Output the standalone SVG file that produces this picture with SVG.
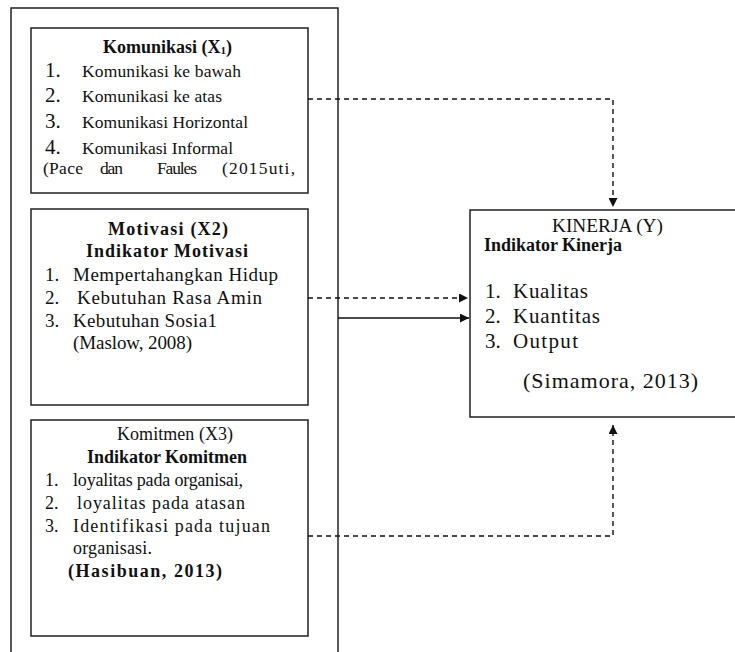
<svg xmlns="http://www.w3.org/2000/svg" width="735" height="652" viewBox="0 0 735 652">
<style>
.box{fill:#fff;stroke:#222;stroke-width:1.5}
.t{font-family:"Liberation Serif","Times New Roman",serif;fill:#111;font-size:18px}
.b{font-weight:bold}
.n{font-size:21px}
.s{font-size:17.5px}
.m{font-size:19px}
.c{fill:none;stroke:#111;stroke-width:1.4}
.d{stroke-dasharray:5 4}
</style>
<defs>
<marker id="ah" viewBox="0 0 10 10" refX="10" refY="5" markerWidth="9" markerHeight="9" markerUnits="userSpaceOnUse" orient="auto">
<path d="M0,0 L10,5 L0,10 Z" fill="#111"/>
</marker>
</defs>
<rect width="735" height="652" fill="#fff"/>
<g id="outer">
<rect class="box" x="11" y="8" width="327" height="660"/>
</g>
<g id="komunikasi">
<rect class="box" x="31" y="28" width="277" height="165"/>
<text class="t b" x="103" y="53">Komunikasi (X<tspan font-size="11" dy="1">1</tspan><tspan dy="-1">)</tspan></text>
<text class="t n" x="45" y="77">1.</text>
<text class="t s" x="82" y="77" textLength="159" lengthAdjust="spacing">Komunikasi ke bawah</text>
<text class="t n" x="45" y="102">2.</text>
<text class="t s" x="82" y="102" textLength="140" lengthAdjust="spacing">Komunikasi ke atas</text>
<text class="t n" x="45" y="128">3.</text>
<text class="t s" x="82" y="128" textLength="166" lengthAdjust="spacing">Komunikasi Horizontal</text>
<text class="t n" x="45" y="154">4.</text>
<text class="t s" x="82" y="154" textLength="151" lengthAdjust="spacing">Komunikasi Informal</text>
<text class="t s" x="43" y="174" textLength="40" lengthAdjust="spacing">(Pace</text>
<text class="t s" x="100" y="174" textLength="23" lengthAdjust="spacing">dan</text>
<text class="t s" x="157" y="174" textLength="40" lengthAdjust="spacing">Faules</text>
<text class="t s" x="222" y="174" textLength="73" lengthAdjust="spacing">(2015uti,</text>
</g>
<g id="motivasi">
<rect class="box" x="31" y="209" width="277" height="196"/>
<text class="t b" x="108" y="235" textLength="120" lengthAdjust="spacing">Motivasi  (X2)</text>
<text class="t b" x="86" y="257" textLength="162" lengthAdjust="spacing">Indikator Motivasi</text>
<text class="t m" x="45" y="281">1.</text>
<text class="t m" x="73" y="281" textLength="205" lengthAdjust="spacing">Mempertahangkan Hidup</text>
<text class="t m" x="45" y="304">2.</text>
<text class="t m" x="77" y="304" textLength="185" lengthAdjust="spacing">Kebutuhan Rasa Amin</text>
<text class="t m" x="45" y="327">3.</text>
<text class="t m" x="73" y="327" textLength="144" lengthAdjust="spacing">Kebutuhan Sosia1</text>
<text class="t m" x="73" y="349" textLength="119" lengthAdjust="spacing">(Maslow, 2008)</text>
</g>
<g id="komitmen">
<rect class="box" x="31" y="420" width="277" height="216"/>
<text class="t" x="117" y="440" textLength="116" lengthAdjust="spacing">Komitmen (X3)</text>
<text class="t b" x="87" y="463" textLength="160" lengthAdjust="spacing">Indikator Komitmen</text>
<text class="t" x="45" y="486">1.</text>
<text class="t" x="73" y="486" textLength="170" lengthAdjust="spacing">loyalitas pada organisai,</text>
<text class="t" x="45" y="509">2.</text>
<text class="t" x="77" y="509" textLength="168" lengthAdjust="spacing">loyalitas pada atasan</text>
<text class="t" x="45" y="532">3.</text>
<text class="t" x="73" y="532" textLength="197" lengthAdjust="spacing">Identifikasi pada tujuan</text>
<text class="t" x="73" y="554" textLength="79" lengthAdjust="spacing">organisasi.</text>
<text class="t b" x="68" y="577" textLength="154" lengthAdjust="spacing">(Hasibuan, 2013)</text>
</g>
<g id="kinerja">
<rect class="box" x="470" y="210" width="280" height="207"/>
<text class="t" x="552" y="232" style="font-size:19.5px" textLength="111" lengthAdjust="spacingAndGlyphs">KINERJA (Y)</text>
<text class="t b" x="484" y="251" textLength="138" lengthAdjust="spacing">Indikator Kinerja</text>
<text class="t n" x="485" y="298">1.</text>
<text class="t n" x="513" y="298" textLength="75" lengthAdjust="spacing">Kualitas</text>
<text class="t n" x="485" y="323">2.</text>
<text class="t n" x="513" y="323" textLength="87" lengthAdjust="spacing">Kuantitas</text>
<text class="t n" x="485" y="348">3.</text>
<text class="t n" x="513" y="348" textLength="65" lengthAdjust="spacing">Output</text>
<text class="t" x="523" y="388" style="font-size:22px" textLength="175" lengthAdjust="spacing">(Simamora, 2013)</text>
</g>
<g id="connectors">
<polyline class="c d" points="308,99 613,99 613,207" marker-end="url(#ah)"/>
<line class="c d" x1="308" y1="298" x2="468" y2="298" marker-end="url(#ah)"/>
<line class="c" x1="338" y1="318" x2="469" y2="318" marker-end="url(#ah)"/>
<polyline class="c d" points="308,536 613,536 613,425" marker-end="url(#ah)"/>
</g>
</svg>
